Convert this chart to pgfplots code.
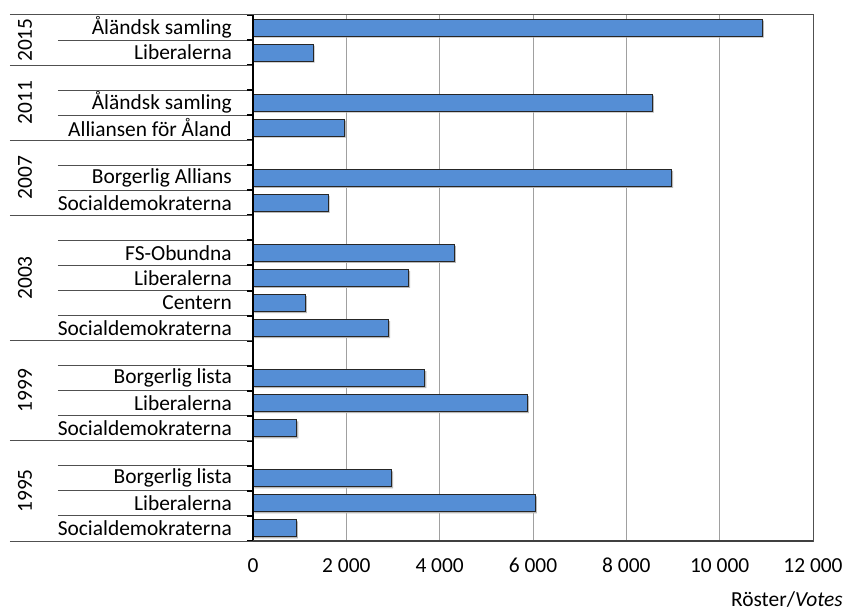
\documentclass[border=0pt]{standalone}
\usepackage{fontspec}
\setmainfont{Carlito}
\usepackage{pgfplots}
\usepackage{pgfplotstable}
\pgfplotsset{compat=1.18}

\definecolor{barblue}{RGB}{85,142,213}
\definecolor{gridgray}{RGB}{160,160,160}
\definecolor{sepgray}{RGB}{80,80,80}

% slot index from bottom; empty slots (3,7,12,15,18) separate the years
\pgfplotstableread{
pos votes
0  931
1  6052
2  2970
4  938
5  5880
6  3685
8  2905
9  1124
10 3335
11 4313
13 1609
14 8970
16 1961
17 8556
19 1288
20 10916
}\votes

\begin{document}
\fontsize{21.5}{25}\selectfont
\begin{tikzpicture}
\useasboundingbox (-253bp,-70bp) rectangle (593bp,541bp);
\begin{axis}[
    at={(0,0)}, anchor=south west,
    scale only axis, width=560bp, height=526bp,
    xbar, bar width=17bp, bar shift=0pt,
    xmin=0, xmax=12000, ymin=-0.5, ymax=20.5,
    xtick={0,2000,...,12000},
    ytick={0,1,2,4,5,6,8,9,10,11,13,14,16,17,19,20},
    yticklabels={Socialdemokraterna, Liberalerna, Borgerlig lista,
                 Socialdemokraterna, Liberalerna, Borgerlig lista,
                 Socialdemokraterna, Centern, Liberalerna, FS-Obundna,
                 Socialdemokraterna, Borgerlig Allians,
                 Alliansen för Åland, Åländsk samling,
                 Liberalerna, Åländsk samling},
    major tick length=0pt,
    xmajorgrids=true,
    major grid style={draw=gridgray, line width=1bp},
    axis line style={draw=sepgray, line width=1bp},
    scaled x ticks=false,
    xticklabel style={
        /pgf/number format/.cd, fixed, 1000 sep={\ }, assume math mode=true,
        /tikz/.cd, anchor=base, inner sep=0pt, yshift=-31bp},
    yticklabel style={anchor=east, inner sep=0pt, xshift=-21bp},
    xlabel={Röster/\textit{Votes}},
    xlabel style={at={(rel axis cs:1,0)}, anchor=base east, inner sep=0pt,
                  xshift=30bp, yshift=-65bp},
    clip=false,
]
\addplot[fill=gray!55, draw=none, xshift=1.5bp, yshift=-1.5bp]
    table[x=votes, y=pos] {\votes};
\addplot[fill=barblue, draw=black!85, line width=1bp]
    table[x=votes, y=pos] {\votes};

% separator lines of the category labels
\pgfplotsinvokeforeach{-0.5,0.5,...,20.5}{
    \draw[sepgray, line width=1bp] ([xshift=-195bp]axis cs:0,#1) -- (axis cs:0,#1);
    \draw[black, line width=2bp] ([xshift=-6bp]axis cs:0,#1) -- (axis cs:0,#1);
}
\pgfplotsinvokeforeach{-0.5,3.5,7.5,12.5,15.5,18.5,20.5}{
    \draw[sepgray, line width=1bp] ([xshift=-243bp]axis cs:0,#1) -- (axis cs:0,#1);
}
\draw[black, line width=1.5bp] (rel axis cs:0,0) -- (rel axis cs:0,1);
\draw[black!75, line width=2bp] (rel axis cs:0,0) -- (rel axis cs:1,0);

\node[rotate=90] at ([xshift=-228bp]axis cs:0,19.5) {2015};
\node[rotate=90] at ([xshift=-228bp]axis cs:0,17) {2011};
\node[rotate=90] at ([xshift=-228bp]axis cs:0,14) {2007};
\node[rotate=90] at ([xshift=-228bp]axis cs:0,10) {2003};
\node[rotate=90] at ([xshift=-228bp]axis cs:0,5.5) {1999};
\node[rotate=90] at ([xshift=-228bp]axis cs:0,1.5) {1995};
\end{axis}
\end{tikzpicture}
\end{document}
